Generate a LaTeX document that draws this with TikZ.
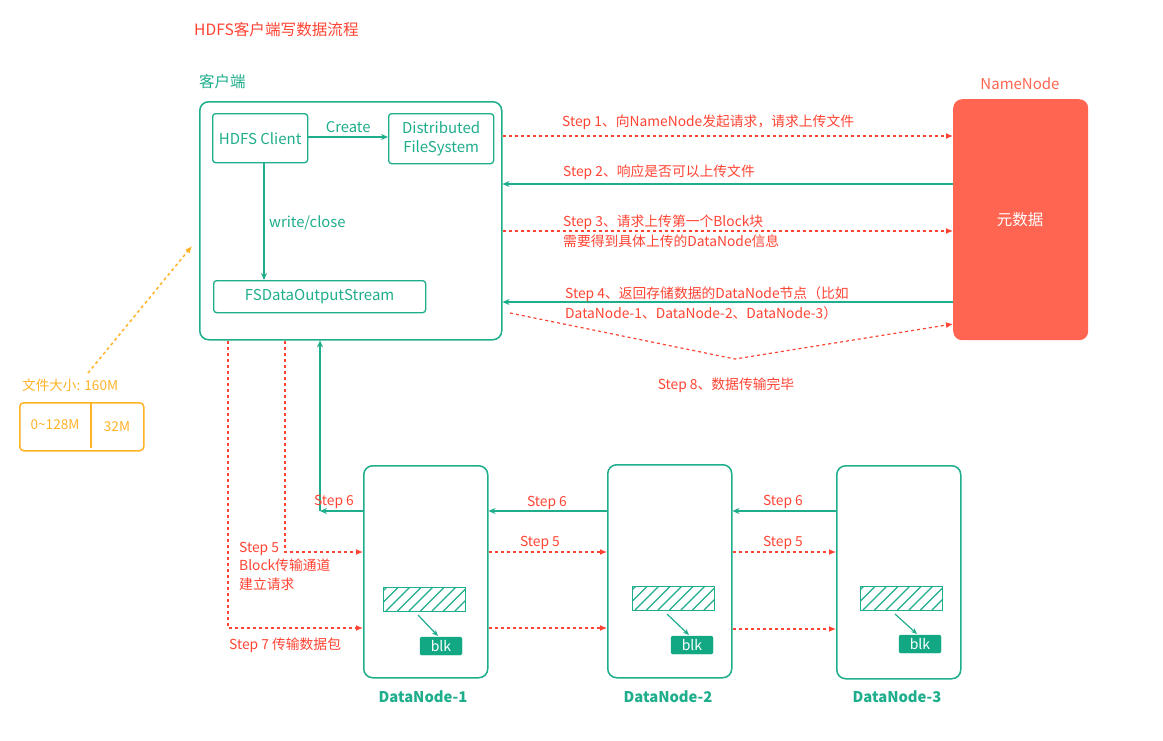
\documentclass[tikz,border=0pt]{standalone}
\usepackage{fontspec}
\setmainfont{Noto Sans CJK SC}
\usetikzlibrary{arrows.meta}
\definecolor{teal1}{HTML}{1FAE8C}
\definecolor{red1}{HTML}{FF4433}
\definecolor{nnred}{HTML}{FF6550}
\definecolor{orng}{HTML}{FFB327}
\definecolor{blkc}{HTML}{12A883}
\tikzset{
  box/.style={draw=teal1, line width=1.3pt, rounded corners=3pt, inner sep=0pt, text=teal1, font=\fontsize{15}{19}\selectfont, align=center},
  bigbox/.style={draw=teal1, line width=1.5pt, rounded corners=9pt, inner sep=0pt},
  tarrow/.style={draw=teal1, line width=1.3pt, -{Stealth[length=7pt,width=6pt]}},
  rarrow/.style={draw=red1, line width=1.2pt, dash pattern=on 3pt off 3pt, -{Latex[length=7pt,width=6pt]}},
  oarrow/.style={draw=orng, line width=1.5pt, dash pattern=on 3pt off 3pt, -{Latex[length=7pt,width=6pt]}},
  ttxt/.style={text=teal1, font=\fontsize{14.8}{17}\selectfont, inner sep=0pt},
  rtxt/.style={text=red1, font=\fontsize{13.8}{20}\selectfont, inner sep=0pt, align=left},
  otxt/.style={text=orng, font=\fontsize{13.6}{16}\selectfont, inner sep=0pt},
  dnlabel/.style={text=teal1, font=\fontsize{14.8}{17}\selectfont\bfseries, inner sep=0pt},
  hatch/.style={draw=teal1, line width=1.4pt, minimum width=82pt, minimum height=24pt, inner sep=0pt},
  blkbox/.style={fill=blkc, draw=blkc, rounded corners=1.5pt, minimum width=42pt, minimum height=18pt, inner sep=0pt, text=white, font=\fontsize{14}{15}\selectfont},
}
\begin{document}
\begin{tikzpicture}[x=1pt,y=-1pt]
\useasboundingbox (0,0) rectangle (1163,740);
\fill[white] (0,0) rectangle (1163,740);

% title
\node[anchor=west, text=red1, font=\fontsize{15.6}{18}\selectfont, inner sep=0pt] (title) at (194,30) {HDFS客户端写数据流程};

% client
\node[anchor=west, ttxt, font=\fontsize{15.5}{18}\selectfont] (clientlbl) at (199,82) {客户端};
\node[bigbox, minimum width=302pt, minimum height=238pt, anchor=north west] (client) at (199,101) {};
\node[box, minimum width=95pt, minimum height=49pt, anchor=north west] (hc) at (212,113) {HDFS Client};
\node[box, minimum width=105pt, minimum height=50pt, anchor=north west] (dfs) at (388,113) {Distributed\\FileSystem};
\node[box, minimum width=212pt, minimum height=32pt, anchor=north west] (fsdos) at (213,280) {FSDataOutputStream};
\draw[tarrow] (hc.east |- 0,137) -- node[above=4pt, ttxt] (createlbl) {Create} (dfs.west |- 0,137);
\draw[tarrow] (hc.south -| 264,0) -- (fsdos.north -| 264,0);
\node[anchor=west, ttxt] (wclbl) at (269,223) {write/close};

% namenode
\node[text=nnred, font=\fontsize{15}{17}\selectfont, inner sep=0pt] (nnlbl) at (1020,84) {NameNode};
\node[fill=nnred, rounded corners=9pt, minimum width=135pt, minimum height=241pt, anchor=north west, inner sep=0pt] (nn) at (953,99) {};
\node[text=white, font=\fontsize{15.5}{17}\selectfont, inner sep=0pt] (meta) at (1020,220) {元数据};

% steps 1-4
\draw[rarrow] (client.east |- 0,136) -- (nn.west |- 0,136);
\node[anchor=west, rtxt] (s1) at (562,122) {Step 1、向NameNode发起请求，请求上传文件};
\draw[tarrow] (nn.west |- 0,184) -- (client.east |- 0,184);
\node[anchor=west, rtxt] (s2) at (563,172) {Step 2、响应是否可以上传文件};
\draw[rarrow] (client.east |- 0,231) -- (nn.west |- 0,231);
\node[anchor=west, rtxt] (s3) at (563,231) {Step 3、请求上传第一个Block块\\需要得到具体上传的DataNode信息};
\draw[tarrow] (nn.west |- 0,302) -- (client.east |- 0,302);
\node[anchor=west, rtxt] (s4) at (565,303) {Step 4、返回存储数据的DataNode节点（比如\\DataNode-1、DataNode-2、DataNode-3）};

% step 8
\coordinate (s8a) at (510,313);
\coordinate (s8m) at (735,359);
\draw[rarrow] (s8a) -- (s8m) -- (nn.west |- 0,324);
\node[rtxt] (s8) at (726,385) {Step 8、数据传输完毕};

% file size
\node[otxt, anchor=west] (fsz) at (22,385) {文件大小: 160M};
\node[draw=orng, line width=1.5pt, rounded corners=4pt, minimum width=124pt, minimum height=48pt, anchor=north west, inner sep=0pt] (fbox) at (19,402) {};
\draw[draw=orng, line width=1.5pt] (fbox.north -| 91,0) -- (91,448);
\node[otxt] (f1) at (55,425) {0\textasciitilde128M};
\node[otxt] (f2) at (117,427) {32M};
\coordinate (oa) at (88,373);
\coordinate (ob) at (192,246);
\draw[oarrow] (oa) -- (ob);

% datanodes
\node[bigbox, minimum width=124pt, minimum height=212pt, anchor=north west] (dn1) at (363,465) {};
\node[bigbox, minimum width=124pt, minimum height=213pt, anchor=north west] (dn2) at (607,464) {};
\node[bigbox, minimum width=124pt, minimum height=213pt, anchor=north west] (dn3) at (836,465) {};
\node[dnlabel] (dn1l) at (423,697) {DataNode-1};
\node[dnlabel] (dn2l) at (668,697) {DataNode-2};
\node[dnlabel] (dn3l) at (897,697) {DataNode-3};

% hatched blocks
\foreach \n/\hx/\hy/\bx/\by in {1/383/587/441/646, 2/632/586/692/645, 3/860/586/920/644}{
  \node[hatch, anchor=north west] (h\n) at (\hx,\hy) {};
  \begin{scope}
    \clip (\hx,\hy) rectangle (\hx+82,\hy+24);
    \foreach \k in {0,...,8}{
      \draw[teal1, line width=1.2pt] (\hx-20+\k*11.5,\hy+24) -- (\hx+4+\k*11.5,\hy);
    }
  \end{scope}
  \node[blkbox] (b\n) at (\bx,\by) {blk};
  \draw[teal1, line width=1.2pt, -{Stealth[length=6pt,width=5pt]}] (\hx+35,\hy+28) -- (\bx-3,\by-10);
}

% step 6
\coordinate (c6) at (320,511);
\draw[tarrow] (dn1.west |- c6) -- (c6);
\draw[tarrow] (c6) -- (client.south -| c6);
\node[rtxt] (s6a) at (334,502) {Step 6};
\draw[tarrow] (dn2.west |- 0,511) -- (dn1.east |- 0,511);
\node[rtxt] (s6b) at (547,503) {Step 6};
\draw[tarrow] (dn3.west |- 0,511) -- (dn2.east |- 0,511);
\node[rtxt] (s6c) at (783,502) {Step 6};

% step 5
\coordinate (c5) at (285,552);
\draw[rarrow] (client.south -| c5) -- (c5) -- (dn1.west |- c5);
\node[rtxt, anchor=west, font=\fontsize{13.8}{18.5}\selectfont] (s5a) at (239,566) {Step 5\\Block传输通道\\建立请求};
\draw[rarrow] (dn1.east |- 0,552) -- (dn2.west |- 0,552);
\node[rtxt] (s5b) at (540,543) {Step 5};
\draw[rarrow] (dn2.east |- 0,552) -- (dn3.west |- 0,552);
\node[rtxt] (s5c) at (783,543) {Step 5};

% step 7
\coordinate (c7) at (228,628);
\draw[rarrow] (client.south -| c7) -- (c7) -- (dn1.west |- c7);
\node[rtxt, anchor=west] (s7) at (229,645) {Step 7 传输数据包};
\draw[rarrow] (dn1.east |- 0,628) -- (dn2.west |- 0,628);
\draw[rarrow] (dn2.east |- 0,629) -- (dn3.west |- 0,629);
\end{tikzpicture}
\end{document}
